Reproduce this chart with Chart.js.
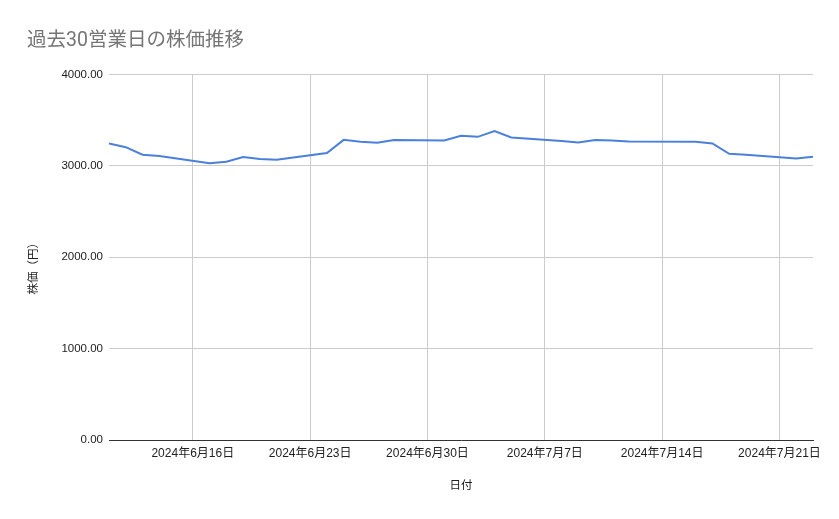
<!DOCTYPE html>
<html>
<head>
<meta charset="utf-8">
<script src="https://cdn.jsdelivr.net/npm/chart.js@4"></script>
<style>
  html, body { margin: 0; padding: 0; background: #fff; }
  #wrap { width: 839px; height: 519px; position: relative; }
</style>
</head>
<body>
<div id="wrap"><canvas id="stockChart"></canvas></div>
<script>
// 営業日（7/15 海の日は休場）
const tradeDates = [
    '2024-06-11', '2024-06-12', '2024-06-13', '2024-06-14',
    '2024-06-17', '2024-06-18', '2024-06-19', '2024-06-20', '2024-06-21',
    '2024-06-24', '2024-06-25', '2024-06-26', '2024-06-27', '2024-06-28',
    '2024-07-01', '2024-07-02', '2024-07-03', '2024-07-04', '2024-07-05',
    '2024-07-08', '2024-07-09', '2024-07-10', '2024-07-11', '2024-07-12',
    '2024-07-16', '2024-07-17', '2024-07-18', '2024-07-19',
    '2024-07-22', '2024-07-23'
];
const prices = [
    3245, 3204, 3121, 3106,
    3027, 3044, 3095, 3074, 3066,
    3139, 3284, 3262, 3251, 3281,
    3277, 3328, 3317, 3379, 3310,
    3272, 3256, 3281, 3277, 3266,
    3262, 3244, 3132, 3121,
    3081, 3099
];
const tickDates = ['2024-06-16', '2024-06-23', '2024-06-30', '2024-07-07', '2024-07-14', '2024-07-21'];
const tickLabels = ['2024年6月16日', '2024年6月23日', '2024年6月30日', '2024年7月7日', '2024年7月14日', '2024年7月21日'];
const yTicks = [0, 1000, 2000, 3000, 4000];

// 日付を日数に変換
function toDay(s) {
    const p = s.split('-').map(Number);
    return Date.UTC(p[0], p[1] - 1, p[2]) / 86400000;
}

const points = tradeDates.map((d, i) => ({ x: toDay(d), y: prices[i] }));
const tickDays = tickDates.map(toDay);

const baseFont = 'Arial, "Liberation Sans", "Noto Sans CJK JP", sans-serif';

const ctx = document.getElementById('stockChart').getContext('2d');
new Chart(ctx, {
    type: 'line',
    data: {
        datasets: [{
            label: '株価',
            data: points,
            borderColor: '#4a80dc',
            borderWidth: 2,
            pointRadius: 0,
            tension: 0,
            fill: false
        }]
    },
    options: {
        responsive: true,
        maintainAspectRatio: false,
        animation: false,
        layout: { padding: { left: 27, right: 26, top: 0, bottom: 0 } },
        plugins: {
            legend: { display: false },
            tooltip: { enabled: false },
            title: {
                display: true,
                text: '過去30営業日の株価推移',
                align: 'start',
                color: '#757575',
                font: { family: 'Roboto, "Noto Sans CJK JP", sans-serif', size: 19.5, weight: 'normal' },
                padding: { top: 29, bottom: 22 }
            }
        },
        scales: {
            x: {
                type: 'linear',
                min: toDay(tradeDates[0]),
                max: toDay(tradeDates[tradeDates.length - 1]),
                afterBuildTicks: function (scale) {
                    scale.ticks = tickDays.map(v => ({ value: v }));
                },
                afterFit: function (scale) { scale.height = 79; },
                ticks: {
                    autoSkip: false,
                    maxRotation: 0,
                    padding: 6,
                    color: '#222',
                    font: { family: baseFont, size: 12 },
                    callback: function (value) {
                        const i = tickDays.indexOf(value);
                        return i >= 0 ? tickLabels[i] : '';
                    }
                },
                grid: { color: '#cccccc', drawTicks: false },
                border: { display: true, color: '#333333', width: 1 },
                title: {
                    display: true,
                    text: '日付',
                    color: '#222',
                    font: { family: baseFont, size: 11.5 },
                    padding: { top: 0, bottom: 26 }
                }
            },
            y: {
                min: 0,
                max: 4000,
                afterBuildTicks: function (scale) {
                    scale.ticks = yTicks.map(v => ({ value: v }));
                },
                afterFit: function (scale) { scale.width = 82; },
                ticks: {
                    padding: 6,
                    color: '#222',
                    font: { family: baseFont, size: 11.5 },
                    callback: function (value) { return value.toFixed(2); }
                },
                grid: { color: '#cccccc', drawTicks: false },
                border: { display: false },
                title: {
                    display: true,
                    text: '株価（円）\u3000\u3000',
                    color: '#222',
                    font: { family: baseFont, size: 11.5 },
                    padding: { top: 0, bottom: 0 }
                }
            }
        }
    }
});
</script>
</body>
</html>
